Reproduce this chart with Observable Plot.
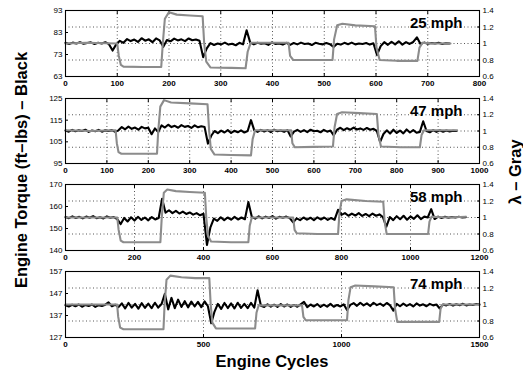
<!DOCTYPE html>
<html><head><meta charset="utf-8">
<script src="https://cdn.jsdelivr.net/npm/d3@7"></script>
<script src="https://cdn.jsdelivr.net/npm/@observablehq/plot@0.6"></script>
<style>
body{margin:0;background:#fff;}
#chart{position:relative;width:523px;height:371px;overflow:hidden;background:#fff;}
</style>
</head><body>
<div id="chart"></div>
<script>
// ---------- labels / ticks ----------
const speedLabels = ["25 mph", "47 mph", "58 mph", "74 mph"];
const xMaxes = [800, 1000, 1200, 1500];
const xTicks1 = [0, 100, 200, 300, 400, 500, 600, 700, 800];
const xTicks2 = [0, 100, 200, 300, 400, 500, 600, 700, 800, 900, 1000];
const xTicks3 = [0, 200, 400, 600, 800, 1000, 1200];
const xTicks4 = [0, 500, 1000, 1500];
const torqueTicks1 = [63, 73, 83, 93];
const torqueTicks2 = [95, 105, 115, 125];
const torqueTicks3 = [140, 150, 160, 170];
const torqueTicks4 = [127, 137, 147, 157];
const lambdaTicks = [0.6, 0.8, 1, 1.2, 1.4];
const lambdaGrid = [0.8, 1, 1.2];
const yTitleLeft = "Engine Torque (ft\u2013lbs) \u2013 Black";
const yTitleRight = "\u03bb \u2013 Gray";
const xTitle = "Engine Cycles";

// ---------- torque (black), sampled every step cycles ----------
const torqueStep1 = 7;
const torque1 = [78.3,77.8,78.4,78.0,78.6,77.9,78.2,78.5,77.8,78.3,78.0,78.6,77.7,74.8,77.6,
 79.2,78.3,80.0,79.1,79.8,78.7,80.4,79.3,79.9,78.6,80.3,79.4,
 76.5,79.6,79.0,80.2,79.4,79.9,79.1,80.3,79.5,79.8,79.2,
 71.8,75.8,78.2,77.3,78.0,77.6,78.4,77.5,77.9,77.2,78.3,77.6,
 84.0,78.4,77.6,78.3,77.9,78.1,77.4,78.5,77.8,78.0,77.5,78.3,
 77.4,78.2,77.6,78.4,77.8,78.0,77.3,78.3,77.9,77.6,78.2,77.7,
 76.4,77.9,77.5,78.3,77.7,78.4,77.6,78.0,77.8,78.2,77.5,78.1,
 72.8,76.8,78.6,77.4,78.8,77.6,79.0,77.5,78.6,77.8,78.7,
 80.8,77.8,78.4,77.9,78.2,78.0,78.3,77.8,78.1,78.0];

const torqueStep2 = 8;
const torque2 = [110.2,109.7,110.5,109.9,110.3,110.0,110.6,109.6,110.2,109.9,110.5,109.7,110.3,110.0,110.4,109.6,
 110.3,111.8,110.8,112.0,111.0,111.6,110.6,111.9,111.2,111.5,108.5,111.2,
 109.5,112.6,111.6,112.9,111.8,112.4,111.5,112.7,111.9,112.3,111.4,112.6,111.7,112.2,111.8,
 104.2,107.8,110.0,109.0,110.2,109.3,110.4,109.1,110.1,109.4,110.3,109.3,110.0,
 115.0,110.3,109.6,110.5,109.8,110.4,109.5,110.6,109.9,110.2,109.6,110.4,
 107.5,109.7,110.5,109.6,110.4,109.5,110.6,109.9,110.1,109.4,110.5,109.7,110.2,
 108.0,110.6,111.5,110.4,111.3,110.6,111.6,110.7,111.2,110.5,111.4,110.6,111.0,
 110.0,105.0,108.6,110.3,108.8,110.6,109.1,110.2,108.9,110.7,109.3,110.4,109.2,
 109.6,114.5,110.0,109.4,110.4,109.6,110.3,109.7,110.2,109.8,110.1,110.0];

const torqueStep3 = 10;
const torque3 = [155.2,154.7,155.5,154.8,155.3,154.6,155.4,154.9,155.6,154.7,155.1,154.6,155.5,154.9,155.2,
 154.3,152.0,154.8,153.2,155.1,153.6,155.3,153.9,155.0,153.7,155.2,154.1,154.8,
 163.5,157.2,158.3,157.0,158.0,156.8,157.7,156.6,157.3,156.3,157.0,156.0,156.7,
 142.5,150.5,154.5,153.5,155.1,153.8,155.0,154.0,155.3,154.1,155.0,154.2,
 162.0,155.3,154.5,155.5,154.6,155.4,154.8,155.6,154.5,155.3,154.9,155.4,154.7,
 152.8,154.6,153.8,155.0,154.0,154.9,153.8,155.1,154.1,155.0,153.9,154.8,154.0,
 158.5,156.2,157.0,155.8,156.8,155.9,157.0,155.7,156.6,155.6,156.8,155.8,156.4,
 155.2,150.8,155.2,153.8,155.6,154.2,155.8,154.0,155.5,154.4,156.0,154.3,155.4,
 155.0,158.8,154.3,155.4,154.8,155.3,154.9,155.2,155.0,155.3,155.0,155.1];

const torqueStep4 = 12;
const torque4 = [141.7,141.1,141.9,141.2,142.0,141.0,141.8,141.3,142.0,140.9,141.7,141.3,141.9,143.0,141.2,141.9,
 140.8,142.5,140.2,142.7,140.6,142.3,140.1,142.6,140.5,142.4,140.3,142.8,140.6,142.2,
 146.8,139.8,145.0,140.3,144.2,140.9,143.5,140.7,143.3,141.1,143.2,140.8,143.4,141.2,
 133.5,138.8,142.3,140.0,142.7,140.4,142.5,140.2,142.8,140.5,142.3,140.3,142.7,140.6,
 148.5,141.4,140.9,142.1,141.0,141.9,140.9,142.2,141.1,142.0,140.9,141.8,141.0,142.1,
 143.2,140.8,142.0,141.1,142.2,140.9,141.9,141.0,142.3,141.0,141.8,141.1,142.1,
 139.5,141.8,142.6,141.4,142.8,141.6,142.5,141.3,142.8,141.7,142.4,141.4,142.7,141.6,
 139.2,142.3,141.2,142.4,141.4,142.2,141.1,142.5,141.5,142.1,141.2,142.3,141.6,142.0,
 140.2,142.0,141.6,142.2,141.5,142.1,141.7,142.3,141.6,142.0,141.8,142.2,142.0];

// ---------- lambda (gray), [cycle, lambda] ----------
const lambda1 = [[0,1.0],[40,1.01],[100,1.0],[103,0.85],[107,0.74],[112,0.72],[150,0.715],[185,0.715],[188,1.0],[192,1.3],[200,1.38],[215,1.35],[240,1.34],[265,1.33],
 [268,1.0],[272,0.78],[280,0.71],[320,0.705],[348,0.70],[352,0.9],[358,1.01],[400,1.01],[431,1.01],[434,0.85],[440,0.80],[480,0.80],[516,0.80],
 [519,1.05],[525,1.22],[535,1.24],[560,1.22],[598,1.21],[601,0.95],[607,0.80],[640,0.79],[680,0.79],[684,0.95],[690,1.01],[710,1.0],[744,1.0]];
const lambda2 = [[0,1.01],[60,1.0],[121,1.01],[124,0.85],[128,0.74],[135,0.72],[180,0.72],[221,0.72],[224,1.0],[229,1.3],[238,1.38],[255,1.35],[300,1.34],[343,1.33],
 [347,1.0],[351,0.78],[360,0.71],[400,0.705],[448,0.70],[452,0.9],[458,1.01],[500,1.01],[545,1.01],[548,0.85],[554,0.80],[600,0.805],[646,0.81],
 [650,1.05],[656,1.21],[668,1.23],[710,1.22],[752,1.21],[756,0.95],[762,0.81],[810,0.80],[856,0.80],[860,0.95],[866,1.01],[900,1.01],[946,1.01]];
const lambda3 = [[0,1.0],[80,1.0],[150,1.0],[154,0.85],[160,0.72],[168,0.70],[220,0.70],[275,0.70],[279,1.0],[285,1.3],[295,1.34],[320,1.32],[360,1.31],[404,1.30],
 [408,1.0],[413,0.78],[422,0.71],[480,0.70],[530,0.70],[534,0.9],[540,1.0],[600,1.0],[660,1.0],[664,0.85],[670,0.81],[730,0.80],[790,0.80],
 [794,1.05],[800,1.2],[815,1.22],[870,1.2],[921,1.19],[925,0.95],[931,0.80],[990,0.80],[1051,0.80],[1055,0.95],[1061,1.01],[1110,1.0],[1160,1.01]];
const lambda4 = [[0,1.0],[100,1.0],[187,1.0],[191,0.85],[198,0.72],[210,0.70],[280,0.70],[355,0.70],[359,1.0],[366,1.3],[380,1.35],[420,1.33],[470,1.32],[521,1.32],
 [526,1.0],[532,0.78],[545,0.71],[620,0.71],[687,0.71],[692,0.9],[700,0.99],[780,0.99],[857,0.99],[862,0.85],[870,0.81],[940,0.81],[1020,0.81],
 [1025,1.05],[1033,1.21],[1050,1.23],[1120,1.22],[1189,1.21],[1194,0.95],[1202,0.79],[1280,0.79],[1354,0.79],[1359,0.95],[1367,1.0],[1430,1.0],[1500,1.0]];

// ---------- assemble ----------
const panels = [
  {label: speedLabels[0], xMax: xMaxes[0], xTicks: xTicks1, tTicks: torqueTicks1, torque: torque1, step: torqueStep1, lambda: lambda1},
  {label: speedLabels[1], xMax: xMaxes[1], xTicks: xTicks2, tTicks: torqueTicks2, torque: torque2, step: torqueStep2, lambda: lambda2},
  {label: speedLabels[2], xMax: xMaxes[2], xTicks: xTicks3, tTicks: torqueTicks3, torque: torque3, step: torqueStep3, lambda: lambda3},
  {label: speedLabels[3], xMax: xMaxes[3], xTicks: xTicks4, tTicks: torqueTicks4, torque: torque4, step: torqueStep4, lambda: lambda4}
];
const panelTops = [10, 98, 184, 271];
const panelHeights = [66, 65, 66, 66];
const FONT = '"Liberation Sans", Arial, Helvetica, sans-serif';
const chart = document.getElementById("chart");
const fmtInt = d => String(d);
const fmtLam = d => String(Math.round(d * 10) / 10);
const GRID = {stroke: "#444", strokeOpacity: 1, strokeDasharray: "1,2.5", strokeWidth: 0.9};

function place(svg, top) {
  svg.style.position = "absolute";
  svg.style.left = "0px";
  svg.style.top = top + "px";
  svg.style.background = "none";
  svg.style.overflow = "visible";
  svg.style.fontFamily = FONT;
  svg.style.fontSize = "8px";
  svg.style.maxWidth = "none";
  chart.appendChild(svg);
}

panels.forEach((p, k) => {
  const mt = 12, mb = 22;
  const ph = panelHeights[k];
  const common = {
    width: 523, height: ph + mt + mb,
    marginTop: mt, marginBottom: mb, marginLeft: 65, marginRight: 44
  };
  const torqueRows = p.torque.map((v, i) => ({c: i * p.step, t: v}));
  const lambdaRows = p.lambda.map(([c, l]) => ({c, l}));
  const tDomain = [p.tTicks[0], p.tTicks[p.tTicks.length - 1]];

  // layer 1: grid, right axis, top ticks
  const g = Plot.plot({
    ...common,
    x: {domain: [0, p.xMax], label: null},
    y: {domain: [0.6, 1.4], label: null},
    marks: [
      Plot.gridX(p.xTicks.slice(1, -1), GRID),
      Plot.gridY(lambdaGrid, GRID),
      Plot.axisY({ticks: lambdaTicks, anchor: "right", tickSize: -3, tickPadding: 6, tickFormat: fmtLam, label: null}),
      Plot.axisX({ticks: p.xTicks, anchor: "top", tickSize: -3, tickFormat: () => "", label: null})
    ]
  });
  place(g, panelTops[k] - mt);

  // layer 2: torque (black) with left axis and bottom axis
  const t = Plot.plot({
    ...common,
    x: {domain: [0, p.xMax], label: null},
    y: {domain: tDomain, label: null},
    marks: [
      Plot.line(torqueRows, {x: "c", y: "t", stroke: "black", strokeWidth: 2.1, strokeLinejoin: "round"}),
      Plot.axisY({ticks: p.tTicks, anchor: "left", tickSize: -3, tickPadding: 6, tickFormat: fmtInt, label: null}),
      Plot.axisX({ticks: p.xTicks, anchor: "bottom", tickSize: -3, tickPadding: 7, tickFormat: fmtInt, fontWeight: "bold", label: null})
    ]
  });
  place(t, panelTops[k] - mt);

  // layer 3: lambda (gray), frame, speed label
  const l = Plot.plot({
    ...common,
    x: {domain: [0, p.xMax], axis: null},
    y: {domain: [0.6, 1.4], axis: null},
    marks: [
      Plot.line(lambdaRows, {x: "c", y: "l", stroke: "#8c8c8c", strokeWidth: 2.1}),
      Plot.frame({stroke: "black", strokeWidth: 1.1}),
      Plot.text([p.label], {frameAnchor: "top-right", textAnchor: "end", lineAnchor: "bottom", dx: -17, dy: 17, fontSize: 15, fontWeight: "bold", fill: "black"})
    ]
  });
  place(l, panelTops[k] - mt);
});

// titles
const ns = "http://www.w3.org/2000/svg";
const ts = document.createElementNS(ns, "svg");
ts.setAttribute("width", 523); ts.setAttribute("height", 371);
ts.style.position = "absolute"; ts.style.left = "0px"; ts.style.top = "0px";
ts.style.fontFamily = FONT;
function addText(str, x, y, rot) {
  const e = document.createElementNS(ns, "text");
  e.textContent = str;
  e.setAttribute("font-size", "16.5");
  e.setAttribute("font-weight", "bold");
  e.setAttribute("text-anchor", "middle");
  e.setAttribute("transform", `translate(${x},${y}) rotate(${rot})`);
  ts.appendChild(e);
}
addText(yTitleLeft, 27, 170, -90);
addText(yTitleRight, 521, 172, -90);
addText(xTitle, 272, 367, 0);
chart.appendChild(ts);
</script>
</body></html>
